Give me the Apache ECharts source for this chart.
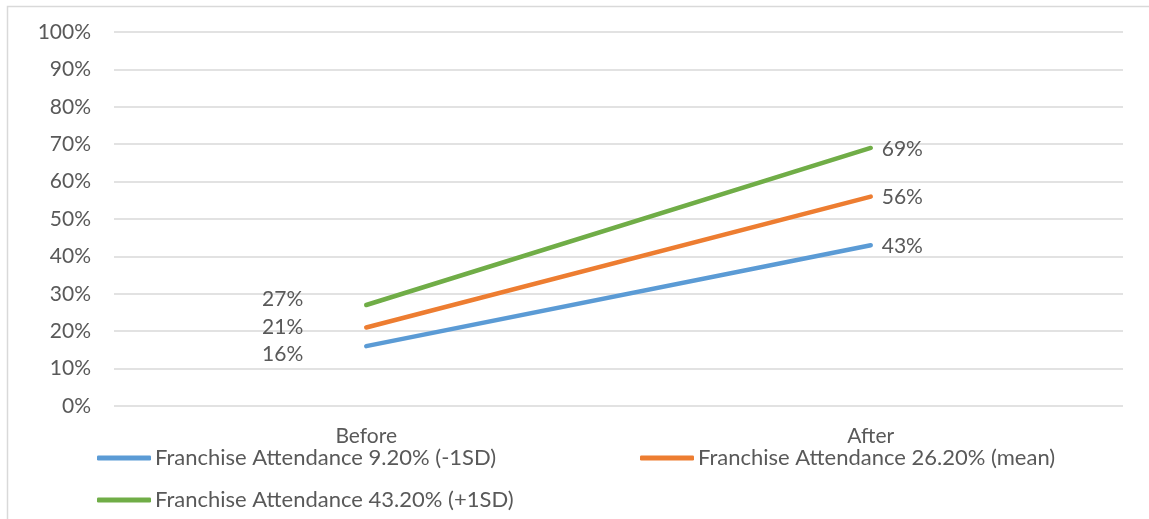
<!DOCTYPE html>
<html>
<head>
<meta charset="utf-8">
<script src="https://cdn.jsdelivr.net/npm/echarts@6/dist/echarts.min.js"></script>
<style>
  html, body { margin: 0; padding: 0; background: #fff; }
  #chart { width: 1149px; height: 519px; }
</style>
</head>
<body>
<div id="chart"></div>
<script>
// Attendance share before and after, by franchise attendance level
const categories = ['Before', 'After'];
const seriesNames = [
  'Franchise Attendance 9.20% (-1SD)',
  'Franchise Attendance 26.20% (mean)',
  'Franchise Attendance 43.20% (+1SD)'
];
const lowValues  = [16, 43];
const meanValues = [21, 56];
const highValues = [27, 69];
const yTicks = [0, 10, 20, 30, 40, 50, 60, 70, 80, 90, 100];

// Drawing styles (kept separate from the data)
const colors = ['#5B9BD5', '#ED7D31', '#70AD47'];
// vertical nudges for the "Before" labels so they do not overlap
const beforeLabelNudge = [8, 0, -6];
const textColor = '#595959';
const fontFamily = 'Lato, Carlito, Calibri, sans-serif';
const fontSize = 21;
const legendFontSize = 22;

function buildData(values, idx) {
  return values.map((v, i) => ({
    value: v,
    label: i === 0
      ? { position: 'left', distance: 63, offset: [0, beforeLabelNudge[idx]] }
      : { position: 'right', distance: 11, offset: [0, 1] }
  }));
}

const allValues = [lowValues, meanValues, highValues];

const chart = echarts.init(document.getElementById('chart'), null, { renderer: 'canvas' });
chart.setOption({
  animation: false,
  backgroundColor: '#ffffff',
  textStyle: { fontFamily: fontFamily },
  graphic: [{
    type: 'rect',
    shape: { x: 7.5, y: 6.5, width: 1300, height: 700 },
    style: { fill: null, stroke: '#D9D9D9', lineWidth: 1.5 },
    silent: true,
    z: -10
  }],
  grid: { left: 114, right: 26, top: 32, bottom: 113 },
  xAxis: {
    type: 'category',
    data: categories,
    boundaryGap: true,
    axisLine: { show: false },
    axisTick: { show: false },
    axisLabel: { color: textColor, fontSize: fontSize, fontFamily: fontFamily, margin: 20 },
    splitLine: { show: false }
  },
  yAxis: {
    type: 'value',
    min: yTicks[0],
    max: yTicks[yTicks.length - 1],
    interval: yTicks[1] - yTicks[0],
    axisLine: { show: false },
    axisTick: { show: false },
    axisLabel: {
      color: textColor, fontSize: fontSize, fontFamily: fontFamily, margin: 23,
      formatter: v => v + '%'
    },
    splitLine: { lineStyle: { color: '#D9D9D9', width: 1.5 } }
  },
  legend: [0, 1, 2].map(i => ({
    data: [seriesNames[i]],
    left: [97, 640, 97][i],
    top: [447, 447, 489][i],
    padding: 0,
    itemWidth: 54,
    itemHeight: 5,
    icon: 'roundRect',
    selectedMode: false,
    textStyle: { color: textColor, fontSize: legendFontSize, fontFamily: fontFamily, padding: [0, 0, 0, -1] }
  })),
  series: allValues.map((vals, i) => ({
    name: seriesNames[i],
    type: 'line',
    data: buildData(vals, i),
    color: colors[i],
    symbol: 'circle',
    symbolSize: 0,
    showSymbol: true,
    lineStyle: { width: 4.5, color: colors[i], cap: 'round' },
    itemStyle: { color: colors[i] },
    label: {
      show: true,
      color: textColor,
      fontSize: fontSize,
      fontFamily: fontFamily,
      formatter: p => p.value + '%'
    },
    emphasis: { disabled: true },
    silent: true
  }))
});
</script>
</body>
</html>
